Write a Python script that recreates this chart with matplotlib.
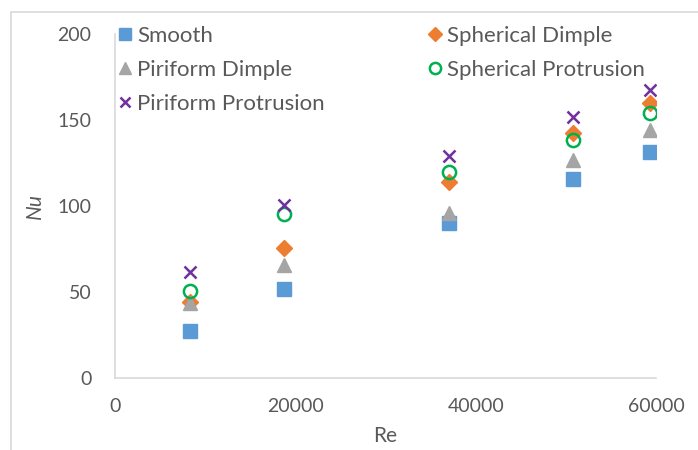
import matplotlib.pyplot as plt
from matplotlib.patches import Rectangle

# Данные (Re и Nu для каждой поверхности)
re_values = [8340, 18720, 37000, 50770, 59360]
nu_smooth = [27.1, 51.6, 89.8, 115.6, 131.2]
nu_spherical_dimple = [44.2, 75.3, 114.1, 142.2, 159.7]
nu_piriform_dimple = [43.3, 65.8, 95.9, 126.5, 144.0]
nu_spherical_protrusion = [50.6, 95.1, 119.5, 138.3, 154.3]
nu_piriform_protrusion = [61.3, 100.5, 129.2, 151.6, 167.5]

plt.rcParams['font.family'] = ['Lato', 'DejaVu Sans']
text_color = '#595959'
spine_color = '#d9d9d9'

fig = plt.figure(figsize=(6.98, 4.5), dpi=100)
ax = fig.add_axes([0.1648, 0.161, 0.775, 0.763])

# Рамка области диаграммы
fig.patches.append(Rectangle((11 / 698, -0.1), 1.2, 1.1 - 12 / 450, transform=fig.transFigure,
                             fill=False, edgecolor=spine_color, linewidth=1.2))

h_smooth, = ax.plot(re_values, nu_smooth, 's', color='#5b9bd5', markersize=10, linestyle='none',
                    label='Smooth')
h_sd, = ax.plot(re_values, nu_spherical_dimple, 'D', color='#ed7d31', markersize=8, linestyle='none',
                label='Spherical Dimple')
h_pd, = ax.plot(re_values, nu_piriform_dimple, '^', color='#a5a5a5', markersize=10, linestyle='none',
                label='Piriform Dimple')
h_sp, = ax.plot(re_values, nu_spherical_protrusion, 'o', color='#00b050', markerfacecolor='none',
                markeredgewidth=1.8, markersize=9.5, linestyle='none', label='Spherical Protrusion')
h_pp, = ax.plot(re_values, nu_piriform_protrusion, 'x', color='#7030a0', markeredgewidth=1.8,
                markersize=9, linestyle='none', label='Piriform Protrusion')

ax.set_xlim(0, 60000)
ax.set_ylim(0, 200)
ax.set_xticks([0, 20000, 40000, 60000])
ax.set_yticks([0, 50, 100, 150, 200])
ax.tick_params(length=0, labelsize=14, labelcolor=text_color)
ax.tick_params(axis='x', pad=15)
ax.tick_params(axis='y', pad=17)

for side in ['top', 'right']:
    ax.spines[side].set_visible(False)
for side in ['left', 'bottom']:
    ax.spines[side].set_color(spine_color)
    ax.spines[side].set_linewidth(1.2)

ax.set_xlabel('Re', fontsize=15, color=text_color, labelpad=8)
ax.set_ylabel('Nu', fontsize=15, color=text_color, style='italic', labelpad=9)

# Легенда в два столбца
handles = [h_smooth, h_pd, h_pp, h_sd, h_sp]
leg = ax.legend(handles, [h.get_label() for h in handles], ncol=2, loc='upper left',
                bbox_to_anchor=(117 / 698, 1 - 26 / 450), bbox_transform=fig.transFigure,
                frameon=False, fontsize=16, labelcolor=text_color, handlelength=0.7,
                handletextpad=0.2, columnspacing=4.6, labelspacing=0.62, markerscale=0.85,
                borderpad=0, borderaxespad=0)

fig.savefig('out.png', dpi=100)
